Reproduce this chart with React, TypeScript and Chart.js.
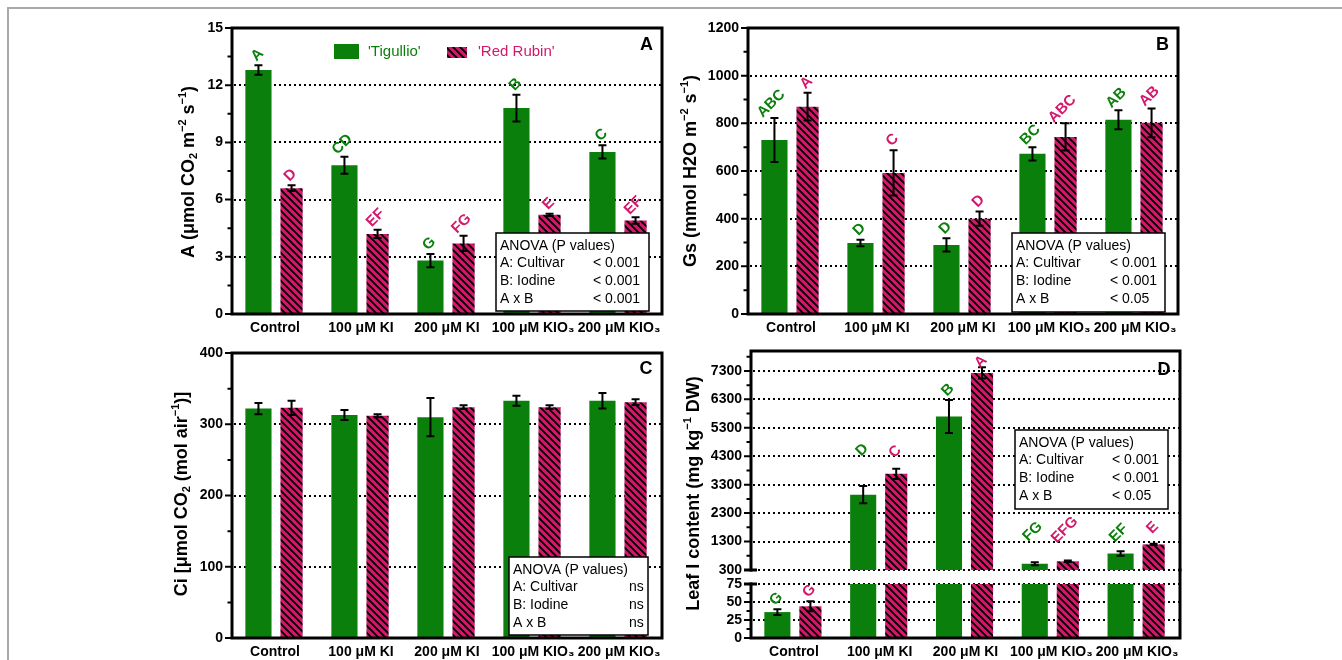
import React, { useEffect, useRef } from 'react';
import { Chart, registerables } from 'chart.js';
Chart.register(...registerables);

const FONT = "'Liberation Sans', Arial, Helvetica, sans-serif";
const GREEN = '#0b7f0b';
const PINK = '#d4176a';
Chart.defaults.font.family = FONT;

// ---------- data ----------
const categories = ['Control', '100 μM KI', '200 μM KI', '100 μM KIO₃', '200 μM KIO₃'];
const seriesNames = ["'Tigullio'", "'Red Rubin'"];

const photoTig = [12.8, 7.8, 2.8, 10.8, 8.5];
const photoTigErr = [0.25, 0.45, 0.35, 0.7, 0.35];
const photoRed = [6.6, 4.2, 3.7, 5.2, 4.9];
const photoRedErr = [0.15, 0.22, 0.4, 0.06, 0.17];
const photoTigLetters = ['A', 'CD', 'G', 'B', 'C'];
const photoRedLetters = ['D', 'EF', 'FG', 'E', 'EF'];

const gsTig = [730, 298, 290, 672, 815];
const gsTigErr = [92, 14, 28, 28, 40];
const gsRed = [870, 592, 400, 743, 802];
const gsRedErr = [58, 95, 30, 57, 60];
const gsTigLetters = ['ABC', 'D', 'D', 'BC', 'AB'];
const gsRedLetters = ['A', 'C', 'D', 'ABC', 'AB'];

const ciTig = [322, 313, 310, 333, 333];
const ciTigErr = [8, 7, 27, 7, 11];
const ciRed = [323, 312, 324, 324, 331];
const ciRedErr = [10, 2, 2.5, 2.5, 4];

const iodTig = [36, 2950, 5700, 520, 880];
const iodTigErr = [4, 300, 580, 50, 80];
const iodRed = [44, 3680, 7230, 606, 1200];
const iodRedErr = [7, 180, 200, 25, 25];
const iodTigLetters = ['G', 'D', 'B', 'FG', 'EF'];
const iodRedLetters = ['G', 'C', 'A', 'EFG', 'E'];
// anchor levels (data units) of the letter labels in the upper part of panel D
const iodTigLetterAt = [null, 4520, 6630, 1650, 1600];
const iodRedLetterAt = [null, 4460, 7620, 1710, 1780];

const ticksA = [0, 3, 6, 9, 12, 15];
const ticksB = [0, 200, 400, 600, 800, 1000, 1200];
const ticksC = [0, 100, 200, 300, 400];
const ticksDUpper = [300, 1300, 2300, 3300, 4300, 5300, 6300, 7300];
const ticksDLower = [0, 25, 50, 75];

const anovaHeader = 'ANOVA (P values)';
const anovaFactors = ['A: Cultivar', 'B: Iodine', 'A x B'];
const anovaA = ['< 0.001', '< 0.001', '< 0.001'];
const anovaB = ['< 0.001', '< 0.001', '< 0.05'];
const anovaC = ['ns', 'ns', 'ns'];
const anovaD = ['< 0.001', '< 0.001', '< 0.05'];

type Seg = [string, number];
const titleA: Seg[] = [['A (μmol CO', 0], ['2', -1], [' m', 0], ['−2', 1], [' s', 0], ['−1', 1], [')', 0]];
const titleB: Seg[] = [['Gs (mmol H2O m', 0], ['−2', 1], [' s', 0], ['−1', 1], [')', 0]];
const titleC: Seg[] = [['Ci [μmol CO', 0], ['2', -1], [' (mol air', 0], ['−1', 1], [')]', 0]];
const titleD: Seg[] = [['Leaf I content (mg kg', 0], ['−1', 1], [' DW)', 0]];

// ---------- helpers ----------
function mids(t: number[]) {
  return t.slice(1).map((v, i) => (v + t[i]) / 2);
}

function makeHatch(): CanvasPattern {
  const s = 7;
  const c = document.createElement('canvas');
  c.width = s; c.height = s;
  const g = c.getContext('2d')!;
  g.fillStyle = PINK; g.fillRect(0, 0, s, s);
  g.strokeStyle = '#000'; g.lineWidth = 1.9;
  g.beginPath();
  g.moveTo(-1, -1); g.lineTo(s + 1, s + 1);
  g.moveTo(-1, s - 1); g.lineTo(1, s + 1);
  g.moveTo(s - 1, -1); g.lineTo(s + 1, 1);
  g.stroke();
  return g.createPattern(c, 'repeat')!;
}

function drawRotRich(ctx: CanvasRenderingContext2D, segs: Seg[], cx: number, cy: number, size: number) {
  ctx.save();
  ctx.translate(cx, cy);
  ctx.rotate(-Math.PI / 2);
  const big = `bold ${size}px ${FONT}`;
  const small = `bold ${Math.round(size * 0.62)}px ${FONT}`;
  const widths = segs.map(([t, m]) => { ctx.font = m ? small : big; return ctx.measureText(t).width; });
  const total = widths.reduce((p, q) => p + q, 0);
  let x = -total / 2;
  ctx.textBaseline = 'middle';
  ctx.textAlign = 'left';
  ctx.fillStyle = '#000';
  segs.forEach(([t, m], i) => {
    ctx.font = m ? small : big;
    const dy = m === 1 ? -size * 0.36 : m === -1 ? size * 0.3 : 0;
    ctx.fillText(t, x, dy);
    x += widths[i];
  });
  ctx.restore();
}

interface Spec {
  key: string;
  area: { left: number; top: number; right: number; bottom: number };
  min: number; max: number;
  ticks: number[]; minor: number[];
  tig: number[]; tigErr: number[]; red: number[]; redErr: number[];
  tigLetters?: string[]; redLetters?: string[];
  tigAt?: (number | null)[]; redAt?: (number | null)[];
  frame: { top: boolean; bottom: boolean; rightUp?: number };
  breakTop?: boolean; breakBottom?: boolean;
  showX: boolean;
  title?: Seg[]; titlePos?: [number, number];
  panel?: string; panelPos?: [number, number];
  anova?: string[]; anovaBox?: [number, number, number, number, number];
  legend?: boolean;
}

const SPECS: Spec[] = [
  {
    key: 'A', area: { left: 232, top: 28, right: 662, bottom: 314 }, min: 0, max: 15,
    ticks: ticksA, minor: mids(ticksA),
    tig: photoTig, tigErr: photoTigErr, red: photoRed, redErr: photoRedErr,
    tigLetters: photoTigLetters, redLetters: photoRedLetters,
    frame: { top: true, bottom: true }, showX: true,
    title: titleA, titlePos: [189, 172], panel: 'A', panelPos: [646.5, 44.5],
    anova: anovaA, anovaBox: [496, 233, 153, 78, 593], legend: true,
  },
  {
    key: 'B', area: { left: 748, top: 28, right: 1178, bottom: 314 }, min: 0, max: 1200,
    ticks: ticksB, minor: mids(ticksB),
    tig: gsTig, tigErr: gsTigErr, red: gsRed, redErr: gsRedErr,
    tigLetters: gsTigLetters, redLetters: gsRedLetters,
    frame: { top: true, bottom: true }, showX: true,
    title: titleB, titlePos: [691, 171], panel: 'B', panelPos: [1162.5, 44.5],
    anova: anovaB, anovaBox: [1012, 233, 153, 79, 1110],
  },
  {
    key: 'C', area: { left: 232, top: 353, right: 662, bottom: 638 }, min: 0, max: 400,
    ticks: ticksC, minor: mids(ticksC),
    tig: ciTig, tigErr: ciTigErr, red: ciRed, redErr: ciRedErr,
    frame: { top: true, bottom: true }, showX: true,
    title: titleC, titlePos: [182, 494], panel: 'C', panelPos: [646, 368],
    anova: anovaC, anovaBox: [509, 557, 139, 78, 629],
  },
  {
    key: 'D1', area: { left: 751, top: 351, right: 1180, bottom: 570 }, min: 300, max: 8000,
    ticks: ticksDUpper, minor: [...mids(ticksDUpper), 7800],
    tig: iodTig, tigErr: iodTigErr, red: iodRed, redErr: iodRedErr,
    tigLetters: iodTigLetters, redLetters: iodRedLetters, tigAt: iodTigLetterAt, redAt: iodRedLetterAt,
    frame: { top: true, bottom: false }, breakBottom: true, showX: false,
    panel: 'D', panelPos: [1164, 369.5],
    anova: anovaD, anovaBox: [1015, 430, 153, 79, 1112],
  },
  {
    key: 'D2', area: { left: 751, top: 584, right: 1180, bottom: 638 }, min: 0, max: 75,
    ticks: ticksDLower, minor: mids(ticksDLower),
    tig: iodTig, tigErr: iodTigErr, red: iodRed, redErr: iodRedErr,
    tigLetters: iodTigLetters, redLetters: iodRedLetters,
    frame: { top: false, bottom: true, rightUp: 14 }, breakTop: true, showX: true,
    title: titleD, titlePos: [694, 493.5],
  },
];

function panelPlugin(s: Spec) {
  return {
    id: 'panel' + s.key,
    beforeDatasetsDraw(chart: any) {
      const { ctx, chartArea: a } = chart;
      const y = chart.scales.y;
      const dotted = s.ticks.filter((v) => v !== 0 && !(v === s.max && s.frame.top));
      ctx.save();
      ctx.strokeStyle = '#000';
      ctx.lineWidth = 2;
      ctx.setLineDash([2, 3]);
      dotted.forEach((v) => {
        const py = Math.round(y.getPixelForValue(v));
        ctx.beginPath(); ctx.moveTo(a.left + 2, py); ctx.lineTo(a.right, py); ctx.stroke();
      });
      ctx.restore();
    },
    afterDatasetsDraw(chart: any) {
      const { ctx, chartArea: a } = chart;
      const y = chart.scales.y;
      // error bars
      ctx.save();
      ctx.beginPath(); ctx.rect(a.left, a.top, a.right - a.left, a.bottom - a.top); ctx.clip();
      ctx.strokeStyle = '#000'; ctx.lineWidth = 2;
      [[s.tig, s.tigErr], [s.red, s.redErr]].forEach(([vals, errs], di) => {
        const meta = chart.getDatasetMeta(di);
        vals.forEach((v: number, i: number) => {
          const x = meta.data[i].x;
          const y1 = y.getPixelForValue(v + errs[i]);
          const y2 = y.getPixelForValue(v - errs[i]);
          ctx.beginPath();
          ctx.moveTo(x, y1); ctx.lineTo(x, y2);
          ctx.moveTo(x - 4, y1); ctx.lineTo(x + 4, y1);
          ctx.moveTo(x - 4, y2); ctx.lineTo(x + 4, y2);
          ctx.stroke();
        });
      });
      ctx.restore();

      // frame
      ctx.save();
      ctx.strokeStyle = '#000'; ctx.lineWidth = 3; ctx.lineCap = 'square';
      ctx.beginPath();
      ctx.moveTo(a.left, a.top); ctx.lineTo(a.left, a.bottom);
      ctx.moveTo(a.right, a.top - (s.frame.rightUp || 0)); ctx.lineTo(a.right, a.bottom);
      if (s.frame.top) { ctx.moveTo(a.left, a.top); ctx.lineTo(a.right, a.top); }
      if (s.frame.bottom) { ctx.moveTo(a.left, a.bottom); ctx.lineTo(a.right, a.bottom); }
      ctx.stroke();
      ctx.lineCap = 'butt';
      ctx.beginPath();
      if (s.breakBottom) { ctx.moveTo(a.left - 7, a.bottom); ctx.lineTo(a.left + 6, a.bottom); }
      if (s.breakTop) { ctx.moveTo(a.left - 7, a.top); ctx.lineTo(a.left + 6, a.top); }
      ctx.stroke();
      // ticks
      ctx.lineWidth = 2;
      ctx.beginPath();
      s.ticks.forEach((v) => {
        const py = y.getPixelForValue(v);
        ctx.moveTo(a.left - 7, py); ctx.lineTo(a.left, py);
      });
      s.minor.forEach((v) => {
        const py = y.getPixelForValue(v);
        ctx.moveTo(a.left - 4.5, py); ctx.lineTo(a.left, py);
      });
      ctx.stroke();
      ctx.restore();

      // letters
      ctx.save();
      ctx.font = `bold 15px ${FONT}`;
      ctx.textAlign = 'center';
      ctx.textBaseline = 'middle';
      [0, 1].forEach((di) => {
        const letters = di === 0 ? s.tigLetters : s.redLetters;
        if (!letters) return;
        const vals = di === 0 ? s.tig : s.red;
        const errs = di === 0 ? s.tigErr : s.redErr;
        const at = di === 0 ? s.tigAt : s.redAt;
        const meta = chart.getDatasetMeta(di);
        ctx.fillStyle = di === 0 ? GREEN : PINK;
        letters.forEach((t, i) => {
          const v = vals[i];
          if (v < s.min || v > s.max) return;
          const w = ctx.measureText(t).width;
          const anchor = at ? at[i] : null;
          const cy = anchor != null ? y.getPixelForValue(anchor) : y.getPixelForValue(v + errs[i]) - (8 + 0.2 * w);
          const cx = meta.data[i].x - 0.1 * w;
          ctx.save();
          ctx.translate(cx, cy);
          ctx.rotate(-Math.PI / 4);
          ctx.fillText(t, 0, 0);
          ctx.restore();
        });
      });
      ctx.restore();

      // legend
      if (s.legend) {
        ctx.save();
        ctx.fillStyle = GREEN; ctx.fillRect(334, 44, 25, 15);
        ctx.fillStyle = chart.data.datasets[1].backgroundColor; ctx.fillRect(447, 47, 20, 11);
        ctx.font = `15px ${FONT}`; ctx.textBaseline = 'middle'; ctx.textAlign = 'left';
        ctx.fillStyle = GREEN; ctx.fillText(seriesNames[0], 368, 52);
        ctx.fillStyle = PINK; ctx.fillText(seriesNames[1], 478, 52);
        ctx.restore();
      }

      // ANOVA box
      if (s.anova && s.anovaBox) {
        const [bx, by, bw, bh, vx] = s.anovaBox;
        ctx.save();
        ctx.fillStyle = '#fff'; ctx.fillRect(bx, by, bw, bh);
        ctx.strokeStyle = '#000'; ctx.lineWidth = 1.5; ctx.strokeRect(bx, by, bw, bh);
        ctx.fillStyle = '#000'; ctx.font = `14px ${FONT}`; ctx.textBaseline = 'middle'; ctx.textAlign = 'left';
        ctx.fillText(anovaHeader, bx + 4, by + 12.7);
        anovaFactors.forEach((f, i) => {
          const ly = by + 12.7 + 17.7 * (i + 1);
          ctx.fillText(f, bx + 4, ly);
          ctx.fillText(s.anova![i], vx, ly);
        });
        ctx.restore();
      }

      // panel letter
      if (s.panel && s.panelPos) {
        ctx.save();
        ctx.fillStyle = '#000'; ctx.font = `bold 18px ${FONT}`;
        ctx.textAlign = 'center'; ctx.textBaseline = 'middle';
        ctx.fillText(s.panel, s.panelPos[0], s.panelPos[1] + 1);
        ctx.restore();
      }

      // axis title
      if (s.title && s.titlePos) drawRotRich(ctx, s.title, s.titlePos[0], s.titlePos[1], 18);
    },
  };
}

function buildChart(canvas: HTMLCanvasElement, s: Spec, hatch: CanvasPattern) {
  const a = s.area;
  return new Chart(canvas, {
    type: 'bar',
    data: {
      labels: categories,
      datasets: [
        { label: seriesNames[0], data: s.tig, backgroundColor: GREEN, borderWidth: 0, barPercentage: 0.79, categoryPercentage: 0.77, clip: 0 } as any,
        { label: seriesNames[1], data: s.red, backgroundColor: hatch, borderWidth: 0, barPercentage: 0.67, categoryPercentage: 0.77, clip: 0 } as any,
      ],
    },
    options: {
      responsive: false,
      animation: false,
      devicePixelRatio: 1,
      layout: { padding: { left: 0, top: a.top, right: 1342 - a.right, bottom: 0 } },
      plugins: { legend: { display: false }, tooltip: { enabled: false } },
      scales: {
        x: {
          display: true,
          grid: { display: false, drawTicks: false },
          border: { display: false },
          ticks: { display: s.showX, color: '#000', font: { family: FONT, size: 14, weight: 'bold' }, padding: 6, maxRotation: 0, autoSkip: false },
          afterFit: (sc: any) => { sc.height = 660 - a.bottom; },
        },
        y: {
          min: s.min,
          max: s.max,
          grid: { display: false, drawTicks: false },
          border: { display: false },
          ticks: { color: '#000', font: { family: FONT, size: 14, weight: 'bold' }, padding: 9, autoSkip: false, callback: (v: any) => String(v) },
          afterBuildTicks: (sc: any) => { sc.ticks = s.ticks.map((v) => ({ value: v })); },
          afterFit: (sc: any) => { sc.width = a.left; },
        },
      },
    } as any,
    plugins: [panelPlugin(s)],
  });
}

export default function App() {
  const refs = useRef<(HTMLCanvasElement | null)[]>([]);
  useEffect(() => {
    const hatch = makeHatch();
    const charts = SPECS.map((s, i) => buildChart(refs.current[i]!, s, hatch));
    return () => charts.forEach((c) => c.destroy());
  }, []);
  return (
    <div style={{ position: 'fixed', left: 0, top: 0, width: 1342, height: 660, background: '#fff', overflow: 'hidden' }}>
      <div style={{ position: 'absolute', left: 7, top: 7, width: 1340, height: 660, borderTop: '2px solid #aaa', borderLeft: '2px solid #aaa' }} />
      {SPECS.map((s, i) => (
        <canvas
          key={s.key}
          ref={(el) => { refs.current[i] = el; }}
          width={1342}
          height={660}
          style={{ position: 'absolute', left: 0, top: 0 }}
        />
      ))}
    </div>
  );
}
